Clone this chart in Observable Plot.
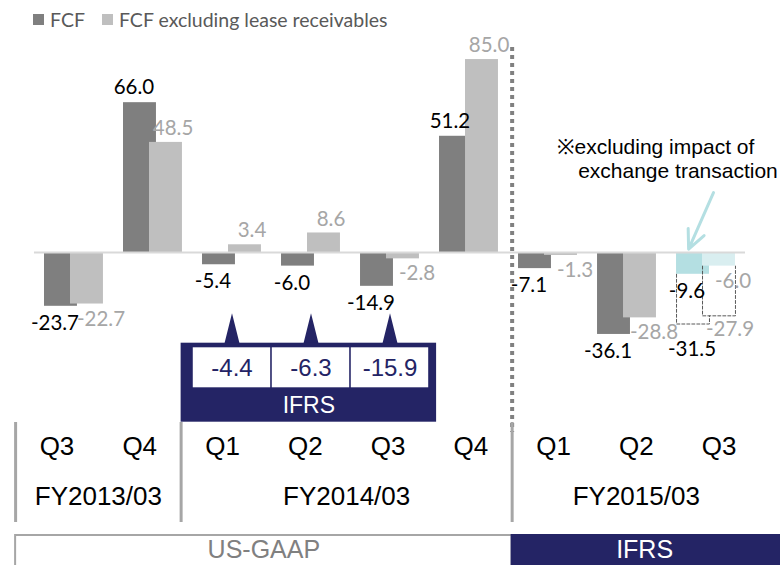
<!DOCTYPE html>
<html><head><meta charset="utf-8">
<script src="https://cdn.jsdelivr.net/npm/d3@7"></script>
<script src="https://cdn.jsdelivr.net/npm/@observablehq/plot@0.6"></script>
<style>
html,body{margin:0;padding:0;background:#fff;}
body{width:780px;height:565px;overflow:hidden;}
#legend{height:30px;box-sizing:border-box;padding:9px 0 0 33px;display:flex;align-items:center;font-family:Lato,"Open Sans",sans-serif;font-size:19.5px;color:#595959;}
#legend .sw{display:inline-block;width:11px;height:11px;margin-right:6px;}
#legend .item{display:flex;align-items:center;margin-right:17px;}
#chart svg{display:block;overflow:visible;}
</style></head><body>
<div id="legend"></div>
<div id="chart"></div>
<script>
// ---- data ----
const quarters = ["Q3","Q4","Q1","Q2","Q3","Q4","Q1","Q2","Q3"];
const fiscalYears = ["FY2013/03","FY2013/03","FY2014/03","FY2014/03","FY2014/03","FY2014/03","FY2015/03","FY2015/03","FY2015/03"];
const standards = ["US-GAAP","US-GAAP","US-GAAP","US-GAAP","US-GAAP","US-GAAP","IFRS","IFRS","IFRS"];
const seriesNames = ["FCF","FCF excluding lease receivables"];
const fcf = [-23.7, 66.0, -5.4, -6.0, -14.9, 51.2, -7.1, -36.1, -9.6];
const fcfExLease = [-22.7, 48.5, 3.4, 8.6, -2.8, 85.0, -1.3, -28.8, -6.0];
const fcfIFRS = [null, null, -4.4, -6.3, -15.9, null, null, null, null];
const excludingFx = [false, false, false, false, false, false, false, false, true];
const fcfReported = [null, null, null, null, null, null, null, null, -31.5];
const fcfExLeaseReported = [null, null, null, null, null, null, null, null, -27.9];
const ifrsLabel = "IFRS";
const fxNote = ["※excluding impact of", "exchange transaction"];

// ---- styles ----
const darkGray = "#7f7f7f", lightGray = "#bfbfbf";
const teal = "#b4dfe2", tealLight = "#d9eef0";
const navy = "#242465";
const sans = "'Liberation Sans', Arial, sans-serif";
const calib = "Lato, 'Open Sans', sans-serif";

// legend
const legend = document.getElementById("legend");
[darkGray, lightGray].forEach((c, k) => {
  const it = document.createElement("span"); it.className = "item";
  const sw = document.createElement("span"); sw.className = "sw"; sw.style.background = c;
  it.appendChild(sw); it.appendChild(document.createTextNode(seriesNames[k]));
  legend.appendChild(it);
});

const rows = quarters.map((q, i) => ({
  i, q, fy: fiscalYears[i], std: standards[i],
  fcf: fcf[i], ex: fcfExLease[i], ifrs: fcfIFRS[i], fx: excludingFx[i],
  rep: fcfReported[i], exRep: fcfExLeaseReported[i]
}));

const T = 30;                 // legend height above the svg
const H = 565 - T;            // svg height
const py = v => v - T;        // page y -> svg y
const W = 0.373, G = 0.044;   // bar extents around group centre
const lx = i => -0.215 + 1.0475 * i;   // category-row position

// dashed "reported" outlines
const dashed = [];
rows.filter(d => d.rep != null).forEach(d => {
  dashed.push({k: "a" + d.i, x: d.i - W, y: d.fcf}, {k: "a" + d.i, x: d.i - W, y: d.rep},
              {k: "a" + d.i, x: d.i + G, y: d.rep}, {k: "a" + d.i, x: d.i + G, y: d.exRep});
  dashed.push({k: "b" + d.i, x: d.i - G, y: d.ex}, {k: "b" + d.i, x: d.i - G, y: d.exRep},
              {k: "b" + d.i, x: d.i + W, y: d.exRep}, {k: "b" + d.i, x: d.i + W, y: d.ex});
});
const repLabels = rows.filter(d => d.rep != null);

const fyGroups = d3.groups(rows, d => d.fy).map(([fy, g]) => ({fy, first: g[0].i, last: g[g.length - 1].i, x: d3.mean(g, d => lx(d.i))}));
const stdGroups = d3.groups(rows, d => d.std).map(([s, g]) => ({s, first: g[0].i, last: g[g.length - 1].i}));
const ifrsRows = rows.filter(d => d.ifrs != null);
const ifrsBand = {first: ifrsRows[0].i, last: ifrsRows[ifrsRows.length - 1].i};
const fxRow = rows.find(d => d.fx);

const xDomain = [-0.930, 8.943];
const yDomain = [(252 - 565) / 2.27, (252 - T) / 2.27];
const tallTriangle = {draw(ctx) { ctx.moveTo(-7.5, 0); ctx.lineTo(0, -30); ctx.lineTo(7.5, 0); ctx.closePath(); }};
const fmt = v => v.toFixed(1);
const mid = {frameAnchor: "top", lineAnchor: "middle"};

const chart = Plot.plot({
  width: 780, height: H,
  marginLeft: 0, marginRight: 0, marginTop: 0, marginBottom: 0,
  style: {overflow: "visible", background: "transparent"},
  x: {domain: xDomain, axis: null},
  y: {domain: yDomain, axis: null},
  marks: [
    // bars
    Plot.rect(rows, {x1: d => d.i - W, x2: d => d.i + G, y1: 0, y2: "fcf", fill: d => d.fx ? teal : darkGray}),
    Plot.rect(rows, {x1: d => d.i - G, x2: d => d.i + W, y1: 0, y2: "ex", fill: d => d.fx ? tealLight : lightGray}),
    Plot.ruleY([0], {x1: -0.5, x2: 8.5, stroke: "#d9d9d9", strokeWidth: 2}),
    // reported (dashed)
    Plot.line(dashed, {x: "x", y: "y", z: "k", stroke: "#595959", strokeWidth: 1, strokeDasharray: "3,2"}),
    // value labels
    Plot.text(rows.filter(d => d.fcf >= 0), {x: d => d.i - 0.165, y: "fcf", text: d => fmt(d.fcf), dx: -6, dy: -15, fontSize: 20.5, fontFamily: calib, fill: "#000"}),
    Plot.text(rows.filter(d => d.fcf < 0), {x: d => d.i - 0.165, y: "fcf", text: d => fmt(d.fcf), dx: -6, dy: 17, fontSize: 20.5, fontFamily: calib, fill: "#000"}),
    Plot.text(rows.filter(d => d.ex >= 0), {x: d => d.i + 0.165, y: "ex", text: d => fmt(d.ex), dx: 7, dy: -14, fontSize: 20.5, fontFamily: calib, fill: "#a6a6a6"}),
    Plot.text(rows.filter(d => d.ex < 0), {x: d => d.i + 0.165, y: "ex", text: d => fmt(d.ex), dx: 14, dy: 15, fontSize: 20.5, fontFamily: calib, fill: "#a6a6a6"}),
    Plot.text(repLabels, {x: d => d.i - 0.165, y: "rep", text: d => fmt(d.rep), dx: -1, dy: 25, fontSize: 20.5, fontFamily: calib, fill: "#000"}),
    Plot.text(repLabels, {x: d => d.i + 0.165, y: "exRep", text: d => fmt(d.exRep), dx: 11, dy: 14, fontSize: 20.5, fontFamily: calib, fill: "#a6a6a6"}),
    // fiscal-year divider (dotted)
    Plot.ruleX([lx(5.5)], {stroke: "#808080", strokeWidth: 4, strokeDasharray: "4,4", insetTop: py(47), insetBottom: H - py(432)}),
    // IFRS restated box
    Plot.dot(ifrsRows, {x: "i", frameAnchor: "top", dy: py(342.7), symbol: tallTriangle, fill: navy, stroke: "none"}),
    Plot.rect([ifrsBand], {x1: lx(1.5), x2: d => d.last + 0.59, fill: navy, insetTop: py(342.7), insetBottom: H - py(421.7)}),
    Plot.rect(ifrsRows, {x1: d => d.i - 0.49, x2: d => d.i + 0.49, fill: "#fff", insetTop: py(347.3), insetBottom: H - py(387.3)}),
    Plot.text(ifrsRows, {...mid, x: "i", text: d => fmt(d.ifrs), dy: py(367.5), fill: navy, fontSize: 24, fontFamily: sans}),
    Plot.text([ifrsBand], {...mid, x: d => (lx(1.5) + d.last + 0.59) / 2, text: () => ifrsLabel, dy: py(405), fill: "#fff", fontSize: 23, fontFamily: sans}),
    // category table
    Plot.text(rows, {...mid, x: d => lx(d.i), text: "q", dy: py(446), fontSize: 26, fontFamily: sans, fill: "#000"}),
    Plot.text(fyGroups, {...mid, x: "x", text: "fy", dy: py(496), fontSize: 26, fontFamily: sans, fill: "#000"}),
    Plot.ruleX(fyGroups, {x: d => lx(d.first - 0.5), stroke: "#a6a6a6", strokeWidth: 3, insetTop: py(422), insetBottom: H - py(522)}),
    // accounting standard boxes
    Plot.rect(stdGroups, {x1: d => lx(d.first - 0.5), x2: d => d.s === "IFRS" ? xDomain[1] + 0.1 : lx(d.last + 0.5),
      fill: d => d.s === "IFRS" ? navy : "#fff", stroke: d => d.s === "IFRS" ? navy : "#a6a6a6", strokeWidth: 2, insetTop: py(535), insetBottom: -6}),
    Plot.text(stdGroups, {...mid, x: d => (lx(d.first - 0.5) + (d.s === "IFRS" ? 8.9 : lx(d.last + 0.5))) / 2, text: "s", dy: py(549),
      fill: d => d.s === "IFRS" ? "#fff" : "#808080", fontSize: 25, fontFamily: sans}),
    // FX note + arrow
    Plot.text([fxRow], {...mid, x: d => d.i - 0.64, text: () => fxNote[0], dy: py(147), fontSize: 21, fontFamily: sans, fill: "#000"}),
    Plot.text([fxRow], {...mid, x: d => d.i - 0.355, text: () => fxNote[1], dy: py(171), fontSize: 21, fontFamily: sans, fill: "#000"}),
    Plot.arrow([fxRow], {x1: d => d.i + 0.095, y1: 26.4, x2: d => d.i - 0.22, y2: 1.5, stroke: teal, strokeWidth: 3, headLength: 14, headAngle: 50})
  ]
});
document.getElementById("chart").appendChild(chart);
</script>
</body></html>
